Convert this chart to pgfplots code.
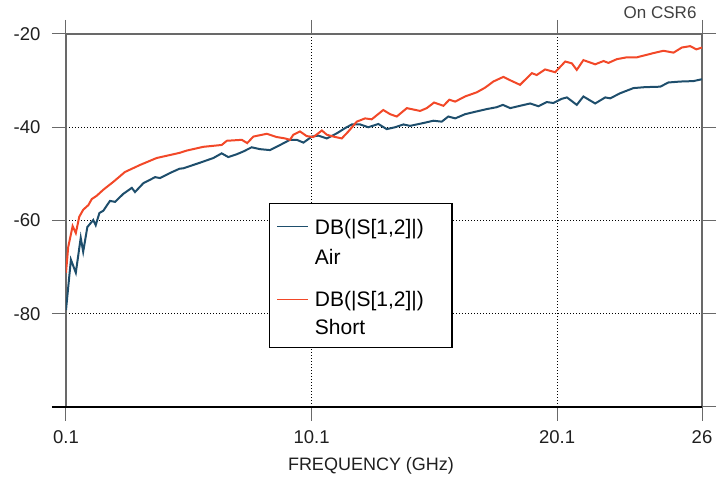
\documentclass[border=0pt]{standalone}
\usepackage{fontspec}
\setmainfont{Liberation Sans}
\usepackage{pgfplots}
\pgfplotsset{compat=1.18}
\definecolor{airblue}{RGB}{30,78,108}
\definecolor{shortred}{RGB}{242,72,40}
\definecolor{axgray}{RGB}{105,105,105}
\begin{document}
\begin{tikzpicture}
\begin{axis}[
  name=ax,
  scale only axis,
  width=636pt, height=373pt,
  xmin=0.1, xmax=26, ymin=-100, ymax=-20,
  xtick={0.1,10.1,20.1,26},
  xticklabels={0.1,10.1,20.1,26},
  ytick={-100,-80,-60,-40,-20},
  yticklabels={,-80,-60,-40,-20},
  tick align=outside,
  major tick length=14pt,
  tick style={axgray, line width=1pt},
  axis line style={axgray, line width=1.2pt},
  grid=major,
  major grid style={black, line width=0.7pt, dash pattern=on 0.7pt off 2.3pt},
  tick label style={font=\fontsize{18.5}{20}\selectfont, text=black!88},
  yticklabel style={xshift=-8pt},
  xticklabel style={yshift=-6pt},
  xlabel={FREQUENCY (GHz)},
  xlabel style={font=\fontsize{18}{20}\selectfont, text=black!88, xshift=-13pt, yshift=-7pt},
  title={On CSR6},
  title style={at={(1,1)}, anchor=base east, yshift=9pt, xshift=-2pt, font=\fontsize{17}{20}\selectfont, text=black!75},
  legend style={
    at={(0.319,0.547)}, anchor=north west,
    draw=black, line width=1.5pt,
    inner xsep=7pt, inner ysep=10.5pt,
    font=\fontsize{21}{24}\selectfont,
    nodes={inner sep=0pt, text depth=},
    cells={anchor=base west},
    row sep=0pt, column sep=6pt,
  },
  legend image code/.code={\draw[#1, line width=1.3pt] (0pt,7.5pt) -- (31pt,7.5pt);},
]
\addplot[airblue, line width=2pt] coordinates {
(0.1,-79.2) (0.30,-68.4) (0.50,-71.2) (0.70,-63.7) (0.80,-66.7) (0.97,-61.4)
(1.21,-59.9) (1.31,-61.0) (1.46,-58.4) (1.62,-57.9) (1.89,-55.8) (2.10,-56.0)
(2.43,-54.3) (2.78,-53.0) (2.91,-53.9) (3.25,-52.0) (3.73,-50.7) (3.93,-50.9)
(4.34,-49.8) (4.72,-48.9) (4.88,-48.8) (5.56,-47.6) (6.10,-46.6) (6.44,-45.6)
(6.71,-46.4) (7.05,-45.8) (7.32,-45.2) (7.66,-44.3) (8.00,-44.7) (8.41,-44.9)
(8.82,-43.8) (9.22,-42.7) (9.50,-42.7) (9.77,-43.3) (10.11,-42.0) (10.38,-41.8)
(10.72,-42.4) (11.13,-41.3) (11.46,-40.2) (11.74,-39.4) (12.08,-39.4) (12.41,-40.0)
(12.82,-39.3) (13.16,-40.4) (13.50,-40.0) (13.84,-39.4) (14.11,-39.7) (14.65,-39.1)
(15.06,-38.6) (15.40,-38.8) (15.67,-37.7) (15.95,-38.1) (16.35,-37.2) (16.83,-36.6)
(17.24,-36.1) (17.64,-35.7) (17.89,-35.2) (18.19,-35.9) (18.59,-35.4) (19.00,-34.9)
(19.34,-35.5) (19.68,-34.6) (19.95,-34.8) (20.29,-33.9) (20.50,-33.6) (20.90,-35.2)
(21.17,-33.4) (21.65,-34.9) (22.06,-33.6) (22.26,-33.8) (22.67,-32.7) (23.21,-31.6)
(23.68,-31.4) (24.30,-31.3) (24.63,-30.4) (25.11,-30.2) (25.65,-30.1) (26.0,-29.7)
};
\addlegendentry{DB(|S[1,2]|)\rule[-10.5pt]{0pt}{30.5pt}\hspace*{21pt}}
\addlegendimage{empty legend}
\addlegendentry{Air\rule[-22pt]{0pt}{42pt}}
\addplot[shortred, line width=2pt] coordinates {
(0.1,-71.2) (0.19,-65.7) (0.37,-61.2) (0.50,-62.7) (0.64,-59.2) (0.80,-57.7)
(1.01,-56.7) (1.15,-55.4) (1.35,-54.7) (1.62,-53.4) (2.03,-51.7) (2.50,-49.6)
(3.11,-48.1) (3.79,-46.6) (4.72,-45.5) (5.02,-45.0) (5.69,-44.2) (6.44,-43.8)
(6.65,-42.9) (7.26,-42.7) (7.48,-43.4) (7.73,-42.0) (8.28,-41.4) (8.68,-42.1)
(9.02,-42.4) (9.22,-42.7) (9.36,-41.6) (9.63,-40.9) (9.90,-41.9) (10.17,-42.1)
(10.52,-40.7) (10.72,-41.6) (10.99,-42.0) (11.33,-42.4) (11.60,-40.9) (11.94,-38.8)
(12.28,-38.1) (12.55,-38.3) (13.02,-36.3) (13.30,-37.2) (13.57,-37.7) (13.98,-35.9)
(14.52,-36.5) (14.79,-35.9) (15.09,-34.7) (15.47,-35.4) (15.71,-34.1) (15.95,-34.5)
(16.35,-33.4) (16.83,-32.5) (17.17,-31.5) (17.50,-30.2) (17.91,-29.2) (18.26,-30.1)
(18.59,-30.9) (19.07,-28.4) (19.27,-28.8) (19.61,-27.6) (20.02,-28.2) (20.43,-25.9)
(20.70,-26.3) (20.90,-27.7) (21.17,-25.6) (21.65,-26.5) (21.99,-25.8) (22.19,-26.2)
(22.53,-25.4) (22.94,-25.0) (23.35,-25.0) (24.02,-24.1) (24.43,-23.6) (24.84,-24.0)
(25.18,-22.9) (25.52,-22.6) (25.77,-23.3) (26.0,-22.9)
};
\addlegendentry{DB(|S[1,2]|)\rule[-8pt]{0pt}{28pt}}
\addlegendimage{empty legend}
\addlegendentry{Short\rule[-2.5pt]{0pt}{22.5pt}}
\end{axis}
\draw[black, line width=1.2pt] ([xshift=-14pt]ax.south west) -- (ax.south east);
\pgfresetboundingbox
\path[use as bounding box] ([xshift=-66pt,yshift=-71pt]ax.south west) rectangle ([xshift=20pt,yshift=34pt]ax.north east);
\end{tikzpicture}
\end{document}
